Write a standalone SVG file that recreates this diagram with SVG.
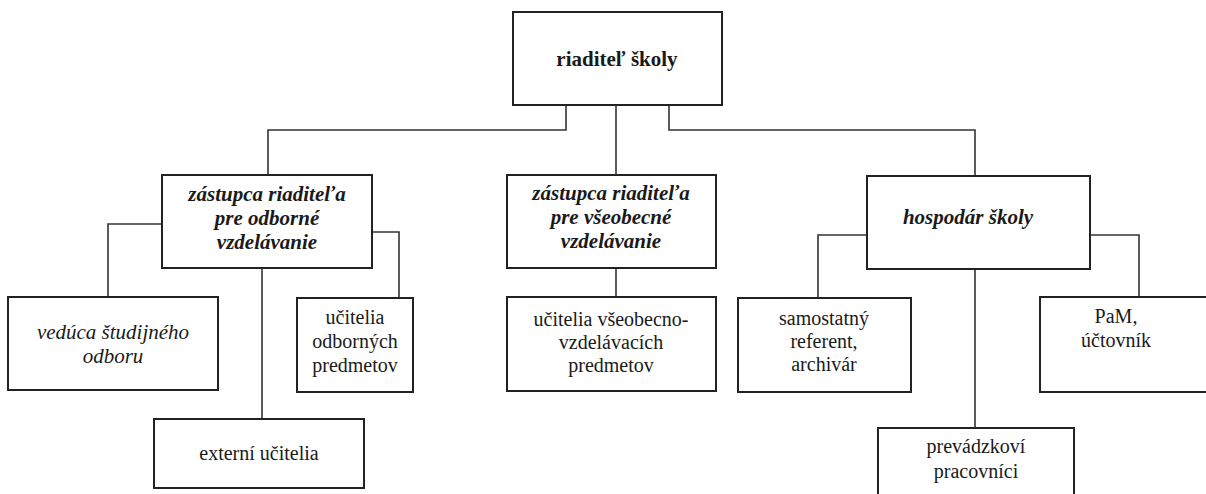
<svg xmlns="http://www.w3.org/2000/svg" width="1206" height="494" viewBox="0 0 1206 494">
<rect width="1206" height="494" fill="#fff"/>
<g id="connectors" fill="none" stroke="#333" stroke-width="1.6">
<polyline points="566,105 566,130 268,130 268,175"/>
<line x1="616" y1="105" x2="616" y2="175"/>
<polyline points="669,105 669,130 975,130 975,176"/>
<polyline points="162,224 108,224 108,297"/>
<polyline points="372,232 399,232 399,298"/>
<line x1="262" y1="268" x2="262" y2="419"/>
<line x1="616" y1="268" x2="616" y2="297"/>
<polyline points="867,235 818,235 818,298"/>
<polyline points="1090,235 1139,235 1139,297"/>
<line x1="975" y1="269" x2="975" y2="428"/>
</g>
<g id="riaditel">
<rect x="513" y="12" width="209" height="93" fill="#fff" stroke="#222" stroke-width="2"/>
<text x="617" y="66" font-family="Times New Roman" font-size="21" font-weight="bold" text-anchor="middle" fill="#1a1a1a">riaditeľ školy</text>
</g>
<g id="zastupca-odborne">
<rect x="162" y="175" width="210" height="93" fill="#fff" stroke="#222" stroke-width="2"/>
<text x="267" y="201" font-family="Times New Roman" font-size="21" font-weight="bold" font-style="italic" text-anchor="middle" fill="#1a1a1a">zástupca riaditeľa</text>
<text x="267" y="225" font-family="Times New Roman" font-size="21" font-weight="bold" font-style="italic" text-anchor="middle" fill="#1a1a1a">pre odborné</text>
<text x="267" y="249" font-family="Times New Roman" font-size="21" font-weight="bold" font-style="italic" text-anchor="middle" fill="#1a1a1a">vzdelávanie</text>
</g>
<g id="zastupca-vseobecne">
<rect x="507" y="175" width="209" height="93" fill="#fff" stroke="#222" stroke-width="2"/>
<text x="611" y="200" font-family="Times New Roman" font-size="21" font-weight="bold" font-style="italic" text-anchor="middle" fill="#1a1a1a">zástupca riaditeľa</text>
<text x="611" y="224" font-family="Times New Roman" font-size="21" font-weight="bold" font-style="italic" text-anchor="middle" fill="#1a1a1a">pre všeobecné</text>
<text x="611" y="248" font-family="Times New Roman" font-size="21" font-weight="bold" font-style="italic" text-anchor="middle" fill="#1a1a1a">vzdelávanie</text>
</g>
<g id="hospodar">
<rect x="867" y="176" width="223" height="93" fill="#fff" stroke="#222" stroke-width="2"/>
<text x="968" y="224" font-family="Times New Roman" font-size="21" font-weight="bold" font-style="italic" text-anchor="middle" fill="#1a1a1a">hospodár školy</text>
</g>
<g id="veduca">
<rect x="8" y="297" width="210" height="93" fill="#fff" stroke="#222" stroke-width="2"/>
<text x="113" y="339" font-family="Times New Roman" font-size="21" font-style="italic" text-anchor="middle" fill="#1a1a1a">vedúca študijného</text>
<text x="113" y="363" font-family="Times New Roman" font-size="21" font-style="italic" text-anchor="middle" fill="#1a1a1a">odboru</text>
</g>
<g id="ucitelia-odbornych">
<rect x="297" y="298" width="116" height="94" fill="#fff" stroke="#222" stroke-width="2"/>
<text x="355" y="324" font-family="Times New Roman" font-size="20" text-anchor="middle" fill="#1a1a1a">učitelia</text>
<text x="355" y="348" font-family="Times New Roman" font-size="20" text-anchor="middle" fill="#1a1a1a">odborných</text>
<text x="355" y="372" font-family="Times New Roman" font-size="20" text-anchor="middle" fill="#1a1a1a">predmetov</text>
</g>
<g id="externi">
<rect x="154" y="419" width="210" height="69" fill="#fff" stroke="#222" stroke-width="2"/>
<text x="259" y="460" font-family="Times New Roman" font-size="20" text-anchor="middle" fill="#1a1a1a">externí učitelia</text>
</g>
<g id="ucitelia-vseobecno">
<rect x="507" y="297" width="209" height="94" fill="#fff" stroke="#222" stroke-width="2"/>
<text x="611" y="326" font-family="Times New Roman" font-size="20" text-anchor="middle" fill="#1a1a1a">učitelia všeobecno-</text>
<text x="611" y="349" font-family="Times New Roman" font-size="20" text-anchor="middle" fill="#1a1a1a">vzdelávacích</text>
<text x="611" y="372" font-family="Times New Roman" font-size="20" text-anchor="middle" fill="#1a1a1a">predmetov</text>
</g>
<g id="samostatny">
<rect x="738" y="298" width="173" height="94" fill="#fff" stroke="#222" stroke-width="2"/>
<text x="824" y="325" font-family="Times New Roman" font-size="20" text-anchor="middle" fill="#1a1a1a">samostatný</text>
<text x="824" y="348" font-family="Times New Roman" font-size="20" text-anchor="middle" fill="#1a1a1a">referent,</text>
<text x="824" y="371" font-family="Times New Roman" font-size="20" text-anchor="middle" fill="#1a1a1a">archivár</text>
</g>
<g id="pam">
<rect x="1040" y="297" width="175" height="95" fill="#fff" stroke="#222" stroke-width="2"/>
<text x="1116" y="323" font-family="Times New Roman" font-size="20" text-anchor="middle" fill="#1a1a1a">PaM,</text>
<text x="1116" y="347" font-family="Times New Roman" font-size="20" text-anchor="middle" fill="#1a1a1a">účtovník</text>
</g>
<g id="prevadzkovi">
<rect x="878" y="428" width="196" height="80" fill="#fff" stroke="#222" stroke-width="2"/>
<text x="976" y="453" font-family="Times New Roman" font-size="20" text-anchor="middle" fill="#1a1a1a">prevádzkoví</text>
<text x="976" y="478" font-family="Times New Roman" font-size="20" text-anchor="middle" fill="#1a1a1a">pracovníci</text>
</g>
</svg>
